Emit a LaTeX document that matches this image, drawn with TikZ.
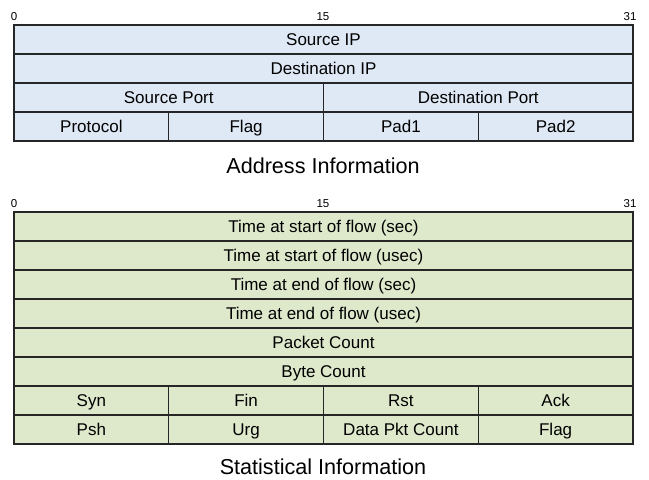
\documentclass[tikz,border=0pt]{standalone}
\usepackage{fontspec}
\setmainfont{Liberation Sans}
\begin{document}
\begin{tikzpicture}[x=1pt,y=-1pt,
  cellbase/.style={draw=black!85, line width=1.2pt, rectangle, inner sep=0pt,
    minimum height=29pt, text height=12.2pt, text depth=0pt,
    font=\fontsize{17}{20}\selectfont},
  addr/.style={cellbase, fill=addrfill},
  stat/.style={cellbase, fill=statfill},
  full/.style={minimum width=619pt},
  half/.style={minimum width=309.5pt},
  quarter/.style={minimum width=154.75pt},
  bitlabel/.style={font=\fontsize{11.5}{13}\selectfont, inner sep=0pt, text height=8.2pt, text depth=0pt},
  caption/.style={font=\fontsize{21.6}{25}\selectfont, inner sep=0pt, text height=15.5pt, text depth=0pt}
]
\definecolor{addrfill}{RGB}{223,232,245}
\definecolor{statfill}{RGB}{222,232,203}
\useasboundingbox (0,0) rectangle (649,480);
\fill[white] (0,0) rectangle (649,480);

% ---- address block ----
\node[bitlabel] (a0)  at (14,16)  {0};
\node[bitlabel] (a15) at (323,16) {15};
\node[bitlabel] (a31) at (630,16) {31};

\node[addr, full] (srcip) at (323.5,39.5) {Source IP};
\node[addr, full] (dstip) at (323.5,68.5) {Destination IP};
\node[addr, half] (sport) at (168.75,97.5) {Source Port};
\node[addr, half] (dport) at (478.25,97.5) {Destination Port};
\node[addr, quarter] (proto) at (91.375,126.5) {Protocol};
\node[addr, quarter] (aflag) at (246.125,126.5) {Flag};
\node[addr, quarter] (pad1)  at (400.875,126.5) {Pad1};
\node[addr, quarter] (pad2)  at (555.625,126.5) {Pad2};

\node[caption] (addrcap) at (323,166) {Address Information};

% ---- statistics block ----
\node[bitlabel] (s0)  at (14,203)  {0};
\node[bitlabel] (s15) at (323,203) {15};
\node[bitlabel] (s31) at (630,203) {31};

\node[stat, full] (tss) at (323.5,226.5) {Time at start of flow (sec)};
\node[stat, full] (tsu) at (323.5,255.5) {Time at start of flow (usec)};
\node[stat, full] (tes) at (323.5,284.5) {Time at end of flow (sec)};
\node[stat, full] (teu) at (323.5,313.5) {Time at end of flow (usec)};
\node[stat, full] (pkt) at (323.5,342.5) {Packet Count};
\node[stat, full] (byt) at (323.5,371.5) {Byte Count};
\node[stat, quarter] (syn) at (91.375,400.5)  {Syn};
\node[stat, quarter] (fin) at (246.125,400.5) {Fin};
\node[stat, quarter] (rst) at (400.875,400.5) {Rst};
\node[stat, quarter] (ack) at (555.625,400.5) {Ack};
\node[stat, quarter] (psh) at (91.375,429.5)  {Psh};
\node[stat, quarter] (urg) at (246.125,429.5) {Urg};
\node[stat, quarter] (dpc) at (400.875,429.5) {Data Pkt Count};
\node[stat, quarter] (sflag) at (555.625,429.5) {Flag};

\node[caption] (statcap) at (323,467) {Statistical Information};
\end{tikzpicture}
\end{document}
